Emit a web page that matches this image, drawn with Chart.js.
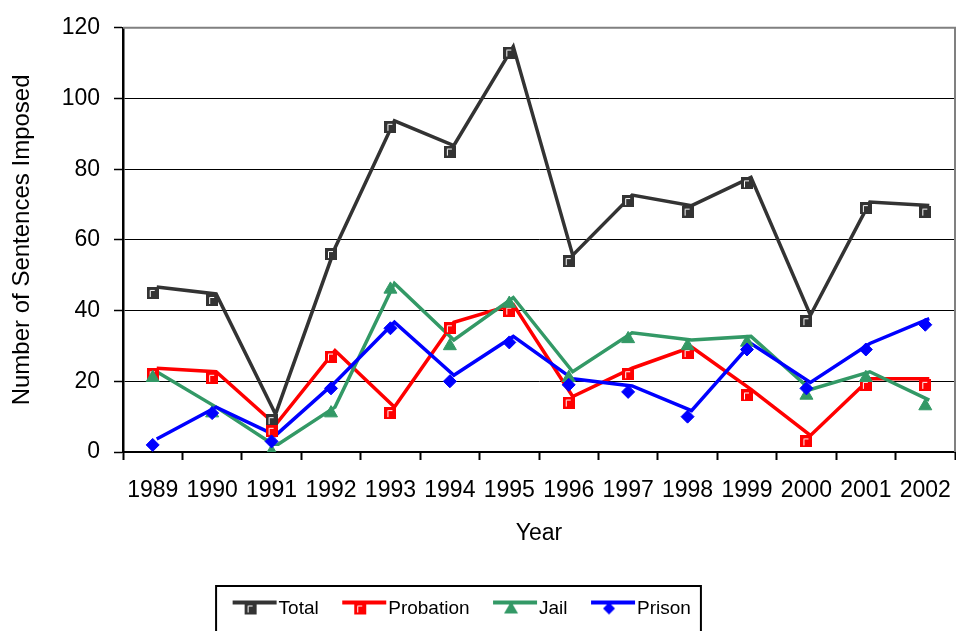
<!DOCTYPE html>
<html>
<head>
<meta charset="utf-8">
<title>Number of Sentences Imposed</title>
<script src="https://cdn.jsdelivr.net/npm/chart.js@4.4.1/dist/chart.umd.min.js"></script>
<style>
  html, body { margin: 0; padding: 0; background: #fff; }
</style>
</head>
<body>
<canvas id="grafik" width="956" height="631"></canvas>
<script>
// values (marker positions)
const years = ["1989", "1990", "1991", "1992", "1993", "1994", "1995", "1996", "1997", "1998", "1999", "2000", "2001", "2002"];
const total = [45, 43, 9, 56, 92, 85, 113, 54, 71, 68, 76, 37, 69, 68];
const probation = [22, 21, 6, 27, 11, 35, 40, 14, 22, 28, 16, 3, 19, 19];
const jail = [21, 11, 0, 11, 46, 30, 42, 21, 32, 30, 31, 16, 21, 13];
const prison = [2, 11, 3, 18, 35, 20, 31, 19, 17, 10, 29, 18, 29, 36];
const yTicks = [0, 20, 40, 60, 80, 100, 120];

const series = [
    { label: "Total", data: total, color: "#333333", marker: "square" },
    { label: "Probation", data: probation, color: "#FF0000", marker: "square" },
    { label: "Jail", data: jail, color: "#339966", marker: "triangle" },
    { label: "Prison", data: prison, color: "#0000FF", marker: "diamond" }
];

Chart.defaults.font.family = "'Liberation Sans', Arial, sans-serif";
Chart.defaults.color = "#000";

// square marker with the little white corner, like the old Excel markers
const squareMarker = (color) => {
    const c = document.createElement("canvas");
    c.width = 12; c.height = 12;
    const g = c.getContext("2d");
    g.fillStyle = color;
    g.fillRect(0, 0, 12, 12);
    g.strokeStyle = "#fff";
    g.lineWidth = 1;
    g.beginPath();
    g.moveTo(3.5, 10); g.lineTo(3.5, 3.5); g.lineTo(8, 3.5);
    g.stroke();
    return c;
};

// legend picture: line on top, marker a bit lower-left (same as in the plot)
const legendIcon = (s) => {
    const c = document.createElement("canvas");
    c.width = 46; c.height = 22;
    const g = c.getContext("2d");
    g.strokeStyle = s.color; g.lineWidth = 4;
    g.beginPath(); g.moveTo(1, 5); g.lineTo(45, 5); g.stroke();
    const x = 19, y = 11;
    g.fillStyle = s.color;
    if (s.marker === "square") {
        g.drawImage(squareMarker(s.color), x - 6, y - 6);
    } else if (s.marker === "triangle") {
        g.beginPath(); g.moveTo(x, y - 7); g.lineTo(x + 7, y + 5); g.lineTo(x - 7, y + 5); g.closePath(); g.fill();
    } else {
        g.beginPath(); g.moveTo(x, y - 6); g.lineTo(x + 6, y); g.lineTo(x, y + 6); g.lineTo(x - 6, y); g.closePath(); g.fill();
    }
    return c;
};

const markerStyle = (s) => {
    if (s.marker === "square") return { pointStyle: squareMarker(s.color), pointRadius: 6 };
    if (s.marker === "triangle") return { pointStyle: "triangle", pointRadius: 7.5 };
    return { pointStyle: "rectRot", pointRadius: 6.5 };
};

// lines and markers are separate datasets: the lines sit a few px up-right of the markers
const datasets = [];
series.forEach((s, i) => {
    datasets.push({
        label: s.label, data: s.data, borderColor: s.color, borderWidth: 3.5,
        pointRadius: 0, tension: 0, fill: false, lineShift: true, order: 13 - i
    });
    datasets.push({
        label: s.label, data: s.data, showLine: false,
        backgroundColor: s.color, borderColor: s.color, pointBorderWidth: 1,
        order: 3 - i, ...markerStyle(s)
    });
});

const lineShift = {
    id: "lineShift",
    beforeDatasetDraw(chart, args) {
        if (chart.data.datasets[args.index].lineShift) { chart.ctx.save(); chart.ctx.translate(4, -6); }
    },
    afterDatasetDraw(chart, args) {
        if (chart.data.datasets[args.index].lineShift) chart.ctx.restore();
    }
};

// grey frame on top/right of plot, box around legend
const frame = {
    id: "frame",
    afterLayout(chart) { chart.legend.right -= 24; },
    afterDraw(chart) {
        const { ctx, chartArea: a, legend } = chart;
        ctx.save();
        ctx.strokeStyle = "#808080"; ctx.lineWidth = 2;
        ctx.beginPath(); ctx.moveTo(a.left, a.top); ctx.lineTo(a.right, a.top); ctx.lineTo(a.right, a.bottom); ctx.stroke();
        const boxes = legend.legendHitBoxes;
        const first = boxes[0], last = boxes[boxes.length - 1];
        ctx.strokeStyle = "#000"; ctx.lineWidth = 2;
        ctx.strokeRect(first.left - 24, first.top - 13, last.left + last.width - first.left + 34, 70);
        ctx.restore();
    }
};

new Chart(document.getElementById("grafik"), {
    type: "line",
    data: { labels: years, datasets: datasets },
    plugins: [lineShift, frame],
    options: {
        responsive: false,
        animation: false,
        events: [],
        layout: { autoPadding: false, padding: { top: 18, right: 1, bottom: 3, left: 0 } },
        plugins: {
            tooltip: { enabled: false },
            legend: {
                position: "bottom",
                labels: {
                    usePointStyle: true,
                    pointStyleWidth: 29,
                    padding: 31,
                    color: "#000",
                    font: { size: 19 },
                    generateLabels: () => series.map((s, i) => ({
                        text: s.label, pointStyle: legendIcon(s), fillStyle: s.color,
                        strokeStyle: s.color, lineWidth: 0, hidden: false, datasetIndex: i * 2, fontColor: "#000"
                    }))
                }
            }
        },
        scales: {
            x: {
                offset: true,
                grid: { drawOnChartArea: false, drawTicks: true, tickLength: 8, tickWidth: 2, tickColor: "#000", offset: true },
                border: { color: "#000", width: 2 },
                ticks: { font: { size: 23 }, padding: 17, maxRotation: 0, autoSkip: false, color: "#000" },
                title: { display: true, text: "Year", font: { size: 23 }, padding: { top: 0, bottom: 21 }, color: "#000" },
                afterFit: (axis) => { axis.height = 116; axis.paddingLeft = 0; axis.paddingRight = 0; }
            },
            y: {
                min: 0, max: 120,
                afterBuildTicks: (axis) => { axis.ticks = yTicks.map(v => ({ value: v })); },
                grid: { color: "#000", lineWidth: 1, tickLength: 9, tickWidth: 1.5, tickColor: "#000" },
                border: { color: "#000", width: 2.5 },
                ticks: { font: { size: 23 }, padding: 14, color: "#000" },
                title: { display: true, text: "Number of Sentences Imposed", font: { size: 24 }, padding: { top: 8, bottom: 0 }, color: "#000" },
                afterFit: (axis) => { axis.width = 123; }
            }
        }
    }
});
</script>
</body>
</html>
